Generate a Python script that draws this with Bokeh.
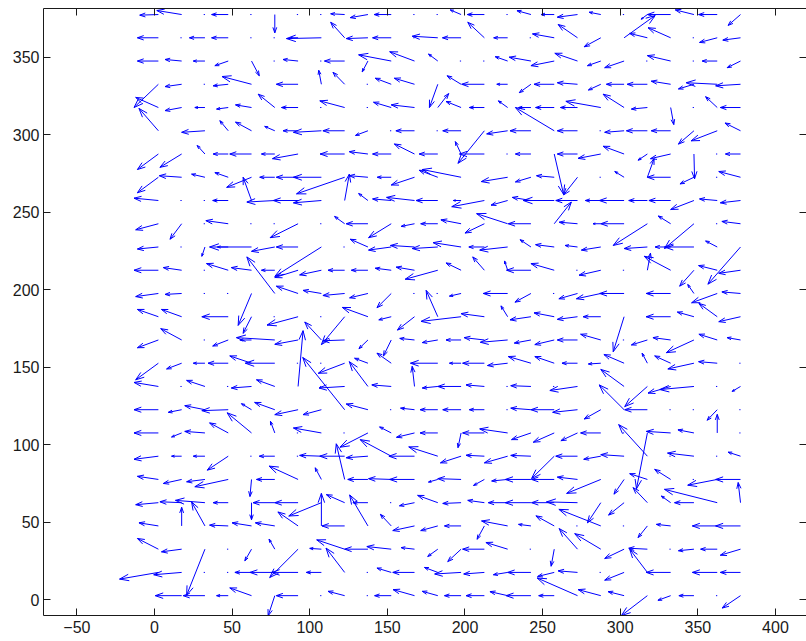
import math
from bokeh.plotting import figure
from bokeh.models import Range1d, LinearAxis, FixedTicker
from bokeh.embed import file_html
from bokeh.resources import INLINE

# grid of arrow tails
x_grid = [2.5, 17.5, 32.5, 47.5, 62.5, 77.5, 92.5, 107.5, 122.5, 137.5, 152.5, 167.5, 182.5,
          197.5, 212.5, 227.5, 242.5, 257.5, 272.5, 287.5, 302.5, 317.5, 332.5, 347.5, 362.5, 377.5]
y_grid = [2.5, 17.5, 32.5, 47.5, 62.5, 77.5, 92.5, 107.5, 122.5, 137.5, 152.5, 167.5, 182.5,
          197.5, 212.5, 227.5, 242.5, 257.5, 272.5, 287.5, 302.5, 317.5, 332.5, 347.5, 362.5, 377.5]

x_ticks = [-50, 0, 50, 100, 150, 200, 250, 300, 350, 400]
y_ticks = [0, 50, 100, 150, 200, 250, 300, 350]

D = -0.8  # near-zero vector (drawn as a dot)

# u, v components per row (row 0 = bottom), columns left to right
U0 = [0, -17, -14, -7.5, -14, -4.3, -14, D, -10.7, D, -10.7, -13.8, -10, -10.7, -11.8, -11.4, -16, -10, -26, -14.6, -10.3, -16.8, -8.2, -9.7, D, -11.8]
V0 = [0, 0, 0, 0, 5, -13, 0, 0, 2.8, 0, 0, 3.9, 2.8, 0, 0, 2.6, 0, 0, 11.4, 3.9, 2.6, -12.9, -3, 0, 0, -8]
U1 = [-25, -18, D, D, -10.7, -16, -17, -9.7, -12, D, -9.2, -14, -8.6, -17, -13.3, -9.2, -15, -10.7, -12.5, D, -12.5, -11.4, -15.7, D, -16, -13]
V1 = [-4.3, -1.5, 0, 0, 0, 0, 0, 0, 15.7, 0, 2.8, 0, 3.2, -1, -1, -1.5, 0, -2.6, 1, 0, -5, 15, 0, 0, 0, 0]
U2 = [-13.5, -13, -11.8, D, -4.3, -3.7, -18.3, -7.5, -18, -15, -15.7, -8.6, -6.5, -8.6, -14, -14, D, -2, -11.8, -16.8, -12.5, -12, D, -10, -10.7, -13]
V2 = [6.9, -1.7, -29.7, 0, -7.5, 6.5, -18.3, 0.5, 6, 0, 1.7, 1, -4.7, -8, 0, 4.3, 0, -11, 13.3, 10, -6, 0.6, 0, -1, 0, -3.9]
U3 = [-12.5, 0, -8.6, -12, -12.5, -12.5, -13, 0, -14.6, -11.8, -7, -14, -11, -10.7, -4.7, -16.8, -8, -11.8, D, -27, D, -6, -9.2, D, -16, -16]
V3 = [2, 12, 15.5, 0.5, 2, 2, 9, 21, 0, 20, 7.5, -3, -3, 0, -8.6, 3.2, 1, 6.5, 0, 10.7, 0, -7.5, 1, 0, 0, 0]
U4 = [-14.6, -14, -19, -9.7, 0, -14, -15, -21, -11.8, -9.7, D, -9.7, -13, -11.8, -10.7, -12.5, -16.5, -14.6, -20, -8.6, -10, -9.2, -6, -12.5, -34, -1.5]
V4 = [-1.3, 0.6, 1.5, 0, -11, 0, 0, -8.6, 5.2, 0, 0, -2, 4.7, -0.5, 1.5, 0, 0, 0, 0.5, -13, -8, 9.7, 4.3, 0, 8.6, 13]
U5 = [-13.5, -11.8, -11.8, -21.5, -1, -11.8, -18.7, -4, -5.4, -13, -14.6, -16, -6, -15, -7, -10.3, -16.5, -14.6, -13, -22, -6.5, -11.4, -10.3, D, -19, -16]
V5 = [2, -2.6, -1.5, -4.7, -11, 0, 8.6, 7.5, 23, 0, 0.5, 0, -1.7, 0.5, -3.9, -1, 0, 0, 1.5, -9, -9.5, 3.7, 6.5, 0, -3.7, 0]
U6 = [-15.7, -6.5, -7.5, -13.5, D, -10, D, -14, -16, -14, -20, -16.5, -18.7, -13.3, -11.8, -15, -13, -14.6, -14, -11, -15, -18.5, D, -17, D, -8]
V6 = [-2, 0, 0, -9, 0, 0, 0, 0.5, 0, -1, 10.7, 0, 6, -4.3, 0.6, -4.3, 0.5, -14.4, 0, -2, 1, 20.4, 0, 2, 0, 2.6]
U7 = [-15.7, -6.5, -13, -12, -15.7, -2.8, D, -18, D, -18, -7.5, -11.6, -11.4, -2, -14, -18, -12.5, -13.5, -10.7, -13, D, -7, -15.7, -10.3, 0, D]
V7 = [0, -2.6, 1, 6.5, 13, 7.5, 0, 3.2, 0, -9.2, 3.9, -2.8, 0, -9.5, 0, 2.6, -4.3, -6, -5, 0, 0, -36, 1, 2, 12, 0]
U8 = [-15.7, -8.6, -13, -17, -6.5, -13, -15, -11.8, -27, -14, D, -9, -11.4, -11.8, -9.7, D, -13, -15, -16, -10.7, -16, -14.6, D, D, -6.5, D]
V8 = [0, -1.7, 2.6, -0.6, 3.9, 4.7, -3.2, -3.2, 33.7, 3.7, 0, 1, 0, 0, 0, 0, 1, 0, -1.7, -6, 16, 0, 0, 0, -6.8, 0]
U9 = [-15.7, D, -11.8, D, -13, -11.8, 3.2, D, -16.5, -12, -12.5, -1.5, -10, -15, -11.8, D, -13, D, -17.8, D, -15, -14.6, -14.6, -22, D, -5.4]
V9 = [2.6, 0, 3.9, 0, -1, 4.3, 36, 0, -1, 16, 1, 13, -1, 0, 1, 0, 0.5, 0, -2.6, 0, 11, -13, -4.3, -2, 0, -3.2]
U10 = [-14.6, -9.7, -7.5, -13, -14, -19, D, D, -17, -8.6, -9.2, D, -17.6, -7.5, -14, -13, -14.6, -12.5, -10, -8, -13, -3.4, -10.3, -16.8, -12, D]
V10 = [-10.7, -3.7, 0, 0, 4.7, 0, 0, 0, -6.5, 3.2, 6.5, 0, 0, 0, 0, -1.5, 4.3, 4.3, 0, -0.5, 5.6, 6.5, 4.7, -3.7, 1, 0]
U11 = [-13.5, -13.5, D, -10, -7.5, -24.7, -15, -10.7, -14, -5.8, -5, -9.5, -10, -9.7, -13, -17.6, -10.7, -12.5, -13, -13, D, -10.3, -11.4, -17.8, -11.8, -8.6]
V11 = [-5, 7.3, 0, -3.9, 0, 1.5, -2.8, 11.6, -0.5, -5.6, -10.3, 1, -1.7, 0, 1.5, -1.5, -2, -3, 0, 3.7, 0, -3.2, 1.5, -8.2, 3.7, 1.5]
U12 = [-13.5, -13, D, -17, -5.4, D, -20, D, -15, -16.5, -8, -11, -7.5, -25.8, -15, -4.3, -13.5, -13, -13, -11.4, -7, D, -15.7, -10.7, -11.8, -14]
V12 = [4.7, 4.7, 0, 0, -10.7, 0, -5.4, 0, -18, 6, -2, -8.6, 17, -3, 2, 7, -2, 2.5, -1.7, 0, -22.6, 0, 0, 3, 8.6, -3.2]
U13 = [-14.6, -10.7, D, D, -8.6, -18, -14, -11.8, -14, -11.8, -9.2, D, D, -7.5, D, -15.7, -10.3, D, -12, -15.7, -15.7, D, -15.7, -4, -16.5, -12]
V13 = [-2, -0.6, 0, 0, -20.6, 23.6, 4.7, 2, -1.3, -2.8, -9.2, 0, 0, -1.7, 0, 0, -5.6, 0, -3.4, -3.4, 0, 0, 0, 5.8, -6, 1]
U14 = [-15.7, -11.8, D, -14, -13, -8.6, -15, -14, -10.7, -10.7, -10.3, -11.8, -21, -9.7, -7.5, -2, -15.7, -15, D, -14, D, 2, -17, -9.2, -12, -14]
V14 = [0, 1.7, 0, 4.3, 1.7, 0, -4.7, -3, 0, 0, 1.3, 2, -5.8, 4.7, 8.6, 6, 0, 4.3, 0, -3.2, 0, 11, 9, -10.3, 3, -2]
U15 = [-13.5, D, -2, -7, -27, -15, -14, -30, D, -11.4, -14.6, -15.5, -16.5, -18, -10, -18, -7, -12, -8, -12.5, 0, -15, -10, -19, -7.5, -21]
V15 = [-1.3, 0, -6, 0, 0, -2.8, 0, -19, 0, 5, -2, 1, -1, 2.8, 0, -2, 4.7, 1.5, 1, -2, 0, -1, 0, 0, 3.9, -24]
U16 = [-14.6, -7.5, D, -14.4, D, D, -18, D, -6.5, -14, -14.6, -8.6, -11, -13, -12.5, -20, -14.6, 11, -11.8, -5, -15, -22, -8, -19, D, -12]
V16 = [-3.9, -10, 0, 2, 0, 0, -9, 0, 4.7, 0, -9, -1.7, 0, 2.5, -6, 6.5, 0, 14, 1, 0, 0, -14, 5, -16, 0, 1.5]
U17 = [-15.7, D, D, -10, -5.4, -18, -16, -18, 3, -6, -12, -18, -14, -5, -21, -10.7, -12, -20, -14, -10, -16, -12, -14, -15, -11.4, -13]
V17 = [1.5, 0, 0, 0, 15, -1, 0, -1.5, 17, 4.5, 1, 2, 0, 0, -4, -3, 2, 0, 0, 0, 0, 0, 0, -5.8, 1, -1.5]
U18 = [-13.5, -14.4, -8.6, -8.6, -16, -9.7, -14, -18, -31, -12, -9, -15, -12, -25, 0, -17, -10, -11.4, -9, D, -6, 4.3, -15, -9, D, -14]
V18 = [-10, 1, 2, 3, -6.5, 0, 0, 0, -10.7, 1, 0, -5, 4.5, 5, 0, -2.8, -3, 1, -11.4, 0, 3.7, 12, 0, -4.3, 0, 3.7]
U19 = [-13.5, -14, -5, -9.7, -14, -8.6, -16.5, D, -15.7, -12, -12, -13, -12, -3.7, -16, D, -10, 6, -13, -14.6, -13.5, -6, -13, 0.4, D, -9.7]
V19 = [-10, -8.6, 5.5, 0, 0, 0, -3, 0, 0, 1.5, 0, 6.5, 0, 8, 0, 0, 0, -26, 0, -2.8, 5, -4, -3, -16, 0, 0]
U20 = [-12.5, 0, -15, -5.4, -10.3, -6.5, -9.7, -18, -14, -8, D, -12, D, -11.8, -17, -13.5, -13.5, -25, -13, D, -12.5, -13.5, -12.5, -10, -16.8, -10]
V20 = [14.4, 0, -1, 6.5, 5.6, 2.8, 0, -1, 0, -3, 0, 0, 0, 0, -21, -2, 0, 15, 0, 0, -1, 0, 0, -8.6, -6.5, 5]
U21 = [-14.6, -10.7, -6.5, -7.5, -10.3, -10.7, -10.7, D, -16, D, -11.4, -15, 7, -9.7, -9.7, -6, -8, -12, -11, -22.5, -13.5, -10.3, 2, D, -7.5, -13]
V21 = [6.5, -2, 0, -1, 1.7, 8.6, 0, 0, 4.3, 0, 3.4, 1.7, 9, 3.9, 0, 4.3, 0, 0, 0, 4, 8.6, -1, -11, 0, 7, 0]
U22 = [-15.7, -10.7, D, -9.7, -19, 0, -14, -1.7, -7.5, D, -10.3, -13, -5.4, -9, -14.6, -7, -7.5, -13, -13, -8, -11.4, -13, -12.5, -10, -20, -16]
V22 = [-15, -1.5, 0, -1, 5, 0, 0, 9, 7.7, 0, 3.9, 3.9, -15, 5.5, 0, 0, -5.4, 0, 1, -3.7, 0, 0, 2, -3, 1, -1]
U23 = [-13.5, -10.7, -7.5, -8.6, 5, D, -9.7, D, -13, -3.7, -21, -16, -6, D, D, -8, -14, -15, -14.6, -8.6, -12.5, D, -15, D, -9.7, -8.6]
V23 = [0, 1, 0, -3, -9.5, 0, 1, 0, 0, -7, 4, 6, 4.5, 0, 0, 2.8, 2.5, -3, 5, -3, -4.3, 0, 3.5, 0, 0, -4.3]
U24 = [-13.5, D, -10, -10.7, D, D, -5, -22.5, -9, -14, -12, D, -16.5, -12, -10.7, -9, D, -14, -12.5, -10.7, 20, -11.4, -14.6, D, -11.4, -11.4]
V24 = [0, 0, 0, 0, 0, 0, 0, -0.5, 10, -0.5, 0, 0, 1, 0, 10, 0, 0, 2.5, 8.6, -5.8, 14.4, 2.8, 6.5, 0, -3, -1.5]
U25 = [-12, -16, D, -10.7, D, 0, D, D, -9, -11.4, -11, D, D, -7, -11, D, -9, -8.5, -13, -7.5, D, -4, -15, -12, -12, -8]
V25 = [-0.4, 2.6, 0, 0, 0, -11.8, 0, 0, 0.5, -2, 0, 0, 0, 3, 0, 0, 2.5, 0, -1.7, 1.5, 0, -3, 0, 3, 0, -7]

U_rows = [U0, U1, U2, U3, U4, U5, U6, U7, U8, U9, U10, U11, U12, U13, U14, U15, U16, U17, U18, U19, U20, U21, U22, U23, U24, U25]
V_rows = [V0, V1, V2, V3, V4, V5, V6, V7, V8, V9, V10, V11, V12, V13, V14, V15, V16, V17, V18, V19, V20, V21, V22, V23, V24, V25]

# quiver geometry (shafts + two-line arrowheads)
sx0, sy0, sx1, sy1 = [], [], [], []
hx0, hy0, hx1, hy1 = [], [], [], []
for j, (ur, vr) in enumerate(zip(U_rows, V_rows)):
    for i, (u, v) in enumerate(zip(ur, vr)):
        if u == 0 and v == 0:
            continue
        x, y = x_grid[i], y_grid[j]
        tx, ty = x + u, y + v
        sx0.append(x); sy0.append(y); sx1.append(tx); sy1.append(ty)
        L = math.hypot(u, v)
        if L < 2:
            continue
        hl = min(0.3 * L, 6.0)
        ux, uy = u / L, v / L
        bx, by = tx - hl * ux, ty - hl * uy
        w = 0.35 * hl
        for sgn in (1, -1):
            hx0.append(tx); hy0.append(ty)
            hx1.append(bx + sgn * w * (-uy)); hy1.append(by + sgn * w * ux)

p = figure(width=806, height=640, output_backend="svg", toolbar_location=None,
           x_range=Range1d(-71.5, 420.0), y_range=Range1d(-10.3, 381.4),
           min_border_left=43, min_border_right=0, min_border_top=8, min_border_bottom=25)
p.background_fill_color = "white"
p.border_fill_color = "white"
p.outline_line_color = None
p.xgrid.visible = False
p.ygrid.visible = False

p.segment(sx0, sy0, sx1, sy1, line_color="#0000ff", line_width=1)
p.segment(hx0, hy0, hx1, hy1, line_color="#0000ff", line_width=1)

def style(ax, ticks, labels=True):
    ax.ticker = FixedTicker(ticks=ticks)
    ax.minor_tick_line_color = None
    ax.major_tick_in = 7
    ax.major_tick_out = 0
    ax.axis_line_color = "#1a1a1a"
    ax.major_tick_line_color = "#1a1a1a"
    if labels:
        ax.major_label_text_font = "Liberation Sans"
        ax.major_label_text_font_size = "16px"
        ax.major_label_text_color = "#1a1a1a"
    else:
        ax.major_label_overrides = {t: "" for t in ticks}
        ax.major_label_standoff = 0

style(p.xaxis[0], x_ticks)
p.xaxis[0].major_label_standoff = 5
style(p.yaxis[0], y_ticks)
p.yaxis[0].major_label_standoff = 4

top = LinearAxis()
style(top, x_ticks, labels=False)
p.add_layout(top, "above")
right = LinearAxis()
style(right, y_ticks, labels=False)
right.axis_line_color = None
p.add_layout(right, "right")

open("out.html", "w").write(file_html(p, INLINE))
